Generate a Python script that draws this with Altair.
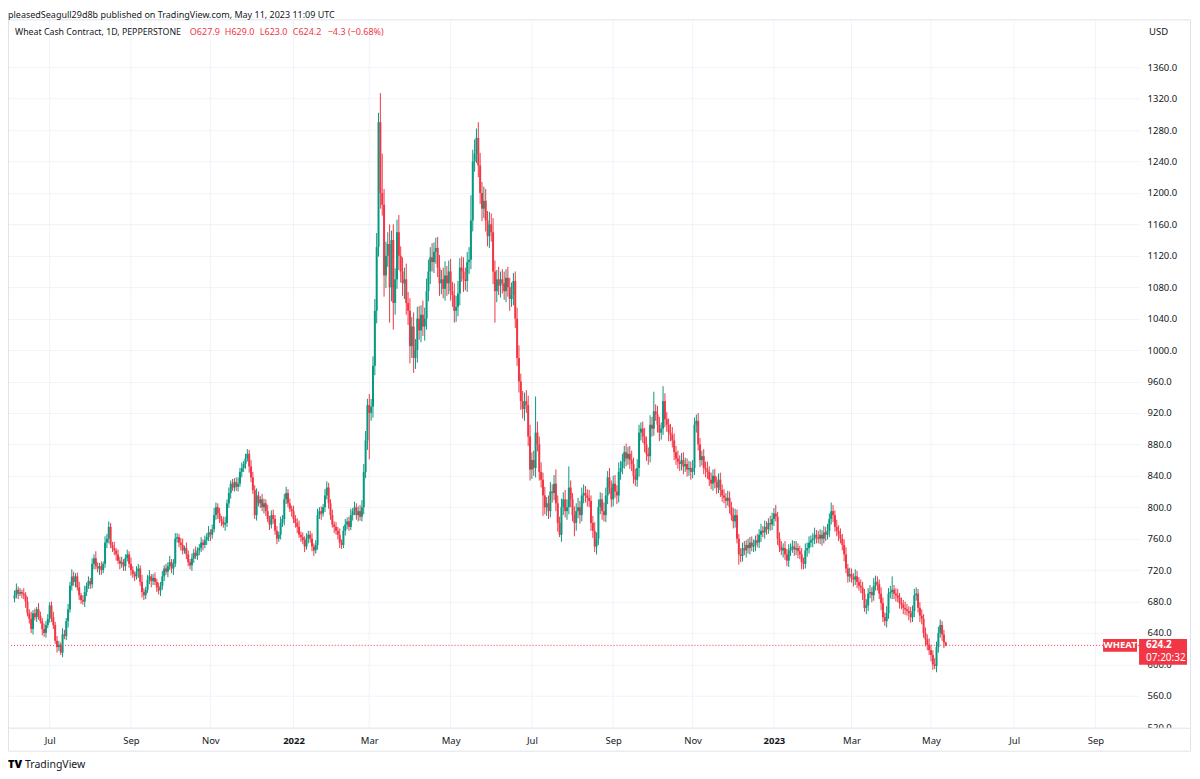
import altair as alt
import pandas as pd

# ---------------- data ----------------
first_open = 684.0
closes = [
    688, 695, 690, 692, 690, 688, 680, 665, 658, 645,
    665, 660, 670, 662, 655, 645, 640, 650, 658, 675,
    660, 650, 630, 622, 625, 615, 638, 636, 655, 670,
    700, 712, 705, 712, 698, 688, 682, 680, 692, 700,
    706, 702, 728, 735, 725, 722, 725, 720, 728, 755,
    760, 775, 752, 748, 745, 740, 732, 728, 730, 725,
    735, 740, 728, 720, 715, 712, 718, 722, 705, 692,
    688, 695, 708, 712, 706, 710, 705, 698, 694, 700,
    712, 722, 718, 725, 730, 722, 728, 760, 762, 755,
    752, 745, 748, 740, 730, 726, 735, 742, 738, 745,
    748, 755, 752, 758, 762, 768, 765, 772, 790, 800,
    792, 785, 782, 778, 780, 805, 818, 830, 825, 832,
    826, 830, 845, 850, 855, 862, 868, 852, 838, 822,
    790, 815, 805, 810, 800, 805, 795, 785, 778, 790,
    785, 770, 760, 765, 780, 785, 810, 818, 805, 798,
    795, 785, 780, 775, 765, 762, 758, 750, 760, 765,
    760, 750, 745, 752, 790, 795, 792, 800, 815, 825,
    805, 790, 778, 775, 770, 765, 755, 752, 770, 778,
    782, 775, 790, 795, 800, 790, 795, 788, 800, 845,
    885, 930, 920, 928, 980, 1050, 1131, 1290, 1200, 1185,
    1095, 1120, 1135, 1080, 1140, 1060, 1090, 1150, 1120, 1100,
    1085, 1090, 1060, 1050, 1005, 1030, 990, 1000, 1040, 1025,
    1045, 1030, 1040, 1075, 1100, 1118, 1112, 1125, 1130, 1105,
    1085, 1090, 1078, 1095, 1085, 1100, 1075, 1070, 1050, 1055,
    1072, 1105, 1100, 1090, 1088, 1112, 1115, 1165, 1240, 1250,
    1270, 1235, 1200, 1180, 1190, 1165, 1145, 1160, 1150, 1100,
    1075, 1090, 1082, 1090, 1085, 1075, 1092, 1080, 1065, 1070,
    1088, 1040, 990, 960, 935, 925, 935, 930, 890, 848,
    860, 850, 895, 880, 845, 835, 815, 800, 805, 795,
    820, 818, 830, 805, 780, 765, 800, 810, 795, 800,
    825, 810, 790, 780, 795, 800, 790, 815, 818, 815,
    812, 808, 780, 770, 750, 760, 800, 810, 795, 790,
    815, 838, 825, 810, 830, 820, 815, 845, 850, 858,
    870, 862, 868, 860, 855, 840, 835, 850, 895, 900,
    890, 880, 868, 865, 905, 900, 922, 918, 905, 895,
    900, 935, 912, 905, 895, 892, 885, 870, 862, 858,
    855, 860, 852, 855, 848, 850, 845, 850, 905, 910,
    880, 860, 865, 850, 848, 845, 835, 830, 840, 832,
    825, 835, 822, 815, 812, 808, 812, 800, 790, 782,
    790, 760, 740, 738, 748, 745, 752, 748, 755, 750,
    752, 758, 755, 765, 770, 768, 775, 772, 780, 778,
    785, 792, 788, 760, 750, 745, 748, 740, 732, 745,
    748, 750, 746, 748, 744, 740, 730, 728, 745, 748,
    755, 758, 760, 765, 762, 760, 765, 760, 768, 765,
    770, 785, 795, 790, 775, 770, 765, 760, 752, 740,
    722, 712, 715, 710, 708, 712, 705, 700, 698, 690,
    672, 675, 690, 692, 688, 700, 705, 702, 690, 678,
    660, 655, 665, 690, 692, 695, 690, 688, 685, 678,
    676, 672, 670, 668, 665, 660, 668, 688, 690, 672,
    662, 658, 640, 632, 625, 618, 612, 600, 598, 622,
    640, 650, 638, 627.9, 624.2,
]
wick_up = [
    6, 8, 4, 5, 3, 7, 4, 6, 5, 9, 4, 6, 3, 8, 5, 4, 7, 5, 6, 4,
    5, 7, 4, 6, 5, 3, 8, 6, 4, 7, 5, 9, 6, 4, 5, 7, 3, 6, 8, 4,
    6, 4, 7, 5, 9, 5, 4, 6, 3, 8, 6, 7, 5, 4, 8, 3, 6, 5, 7, 4,
    5, 6, 4, 8, 5, 3, 7, 6, 4, 9, 5, 4, 6, 8, 3, 5, 7, 4, 6, 5,
    7, 4, 6, 5, 8, 4, 6, 7, 5, 4, 6, 8, 3, 7, 5, 4, 6, 5, 8, 4,
    5, 7, 4, 6, 5, 8, 4, 6, 9, 6, 5, 7, 4, 6, 8, 5, 7, 4, 6, 5,
    6, 8, 5, 7, 4, 6, 6, 5, 8, 7, 6, 9, 5, 4, 7, 6, 5, 8, 4, 6,
    7, 5, 6, 4, 8, 5, 7, 8, 5, 6, 4, 7, 5, 6, 8, 4, 6, 5, 7, 5,
    5, 7, 4, 6, 8, 5, 6, 4, 8, 8, 6, 5, 7, 4, 6, 5, 8, 4, 6, 7,
    5, 6, 8, 4, 7, 5, 6, 8, 9, 10, 12, 8, 14, 10, 12, 15, 18, 12, 37, 50,
    20, 18, 15, 25, 12, 20, 14, 16, 22, 12, 18, 15, 20, 14, 16, 12, 18, 14, 15, 16,
    12, 18, 14, 16, 15, 13, 18, 12, 13, 14, 16, 12, 15, 18, 12, 14, 16, 12, 15, 14,
    16, 12, 14, 18, 15, 13, 16, 32, 15, 18, 12, 20, 16, 14, 18, 15, 12, 16, 14, 18,
    14, 12, 16, 10, 13, 15, 11, 14, 12, 16, 10, 12, 14, 16, 10, 13, 11, 14, 12, 15,
    10, 12, 46, 14, 10, 12, 9, 11, 8, 10, 12, 9, 11, 18, 10, 8, 11, 9, 12, 10,
    27, 9, 8, 11, 10, 12, 8, 10, 11, 9, 8, 10, 7, 9, 11, 8, 10, 9, 8, 11,
    10, 8, 12, 9, 10, 11, 8, 12, 9, 10, 8, 11, 9, 10, 12, 8, 9, 11, 10, 8,
    9, 11, 10, 8, 12, 10, 25, 9, 11, 10, 8, 19, 10, 9, 8, 11, 10, 9, 8, 10,
    8, 9, 10, 8, 7, 9, 8, 10, 9, 8, 10, 8, 7, 9, 8, 10, 7, 9, 8, 9,
    7, 8, 9, 7, 8, 6, 9, 8, 7, 9, 8, 7, 6, 8, 7, 9, 6, 8, 7, 8,
    7, 6, 8, 7, 9, 6, 8, 7, 6, 9, 8, 7, 11, 6, 8, 7, 6, 9, 7, 8,
    6, 8, 7, 9, 6, 7, 8, 6, 9, 7, 8, 6, 7, 9, 6, 8, 7, 6, 8, 7,
    9, 7, 11, 8, 6, 9, 7, 8, 6, 7, 9, 6, 8, 7, 6, 9, 7, 6, 8, 7,
    6, 8, 7, 9, 6, 10, 8, 7, 6, 8, 7, 6, 9, 7, 8, 17, 6, 7, 8, 6,
    7, 6, 8, 7, 6, 8, 7, 8, 8, 6, 7, 8, 6, 7, 6, 8, 7, 6, 8, 7,
    8, 7, 5, 6, 1.1,
]
wick_dn = [
    5, 4, 7, 3, 6, 5, 8, 4, 6, 5, 7, 4, 6, 5, 3, 8, 5, 6, 4, 5,
    6, 5, 4, 7, 5, 3, 6, 4, 5, 8, 4, 6, 5, 7, 4, 6, 5, 4, 7, 5,
    4, 6, 5, 7, 4, 5, 8, 6, 4, 5, 7, 6, 4, 5, 6, 8, 4, 7, 5, 6,
    6, 4, 5, 7, 5, 6, 4, 8, 5, 7, 6, 5, 4, 6, 8, 5, 4, 6, 5, 7,
    5, 6, 4, 7, 5, 6, 8, 4, 5, 6, 7, 5, 4, 6, 5, 5, 7, 6, 4, 5,
    6, 5, 7, 4, 6, 5, 8, 5, 4, 6, 7, 5, 6, 4, 8, 5, 6, 7, 4, 5,
    5, 6, 4, 7, 5, 6, 4, 8, 6, 5, 5, 7, 4, 6, 5, 8, 6, 4, 7, 5,
    6, 5, 7, 4, 6, 5, 8, 6, 5, 4, 7, 5, 6, 8, 4, 6, 5, 7, 4, 6,
    5, 6, 7, 4, 6, 5, 8, 4, 6, 5, 7, 6, 4, 8, 5, 6, 7, 5, 4, 6,
    6, 5, 4, 7, 5, 6, 8, 5, 6, 9, 8, 12, 59, 10, 14, 12, 16, 12, 20, 14,
    27, 16, 14, 45, 18, 34, 15, 12, 18, 14, 16, 20, 15, 18, 22, 15, 19, 14, 16, 12,
    15, 12, 18, 14, 13, 16, 12, 14, 15, 12, 16, 14, 12, 15, 16, 14, 12, 15, 15, 14,
    12, 15, 13, 16, 12, 14, 15, 12, 14, 13, 12, 15, 14, 16, 12, 14, 13, 15, 12, 16,
    40, 14, 12, 15, 13, 11, 14, 12, 15, 10, 13, 12, 10, 14, 11, 12, 15, 10, 12, 14,
    12, 10, 12, 9, 11, 10, 26, 9, 11, 10, 8, 12, 9, 10, 11, 3, 9, 10, 8, 11,
    9, 10, 8, 17, 10, 9, 11, 8, 10, 9, 11, 8, 10, 9, 7, 10, 8, 9, 11, 8,
    9, 11, 8, 10, 9, 8, 11, 9, 10, 8, 9, 10, 8, 11, 9, 10, 8, 9, 11, 10,
    8, 10, 9, 11, 8, 10, 9, 8, 10, 11, 9, 8, 10, 9, 11, 8, 9, 10, 8, 9,
    9, 8, 10, 7, 9, 8, 10, 8, 9, 10, 8, 9, 7, 8, 10, 9, 8, 7, 9, 8,
    8, 7, 9, 8, 7, 9, 6, 8, 7, 9, 8, 6, 13, 8, 7, 6, 9, 7, 8, 6,
    7, 8, 6, 7, 9, 6, 8, 7, 6, 8, 7, 9, 6, 8, 7, 6, 9, 7, 7, 8,
    7, 6, 8, 7, 9, 6, 9, 7, 6, 8, 7, 6, 9, 7, 8, 6, 7, 9, 6, 8,
    6, 8, 7, 9, 6, 7, 8, 6, 7, 9, 6, 8, 7, 6, 9, 7, 8, 6, 7, 8,
    5, 8, 7, 6, 9, 7, 6, 8, 7, 9, 6, 6, 8, 7, 6, 9, 7, 8, 6, 7,
    6, 8, 7, 6, 9, 7, 6, 8, 7, 6, 8, 7, 6, 9, 7, 6, 8, 7, 4, 8,
    7, 6, 8, 7, 1.2,
]
start_date = "2021-06-04"
tick_months = ["2021-07-01", "2021-09-01", "2021-11-01", "2022-01-01", "2022-03-01",
               "2022-05-01", "2022-07-01", "2022-09-01", "2022-11-01", "2023-01-01",
               "2023-03-01", "2023-05-01", "2023-07-01", "2023-09-01"]
tick_labels = ["Jul", "Sep", "Nov", "2022", "Mar", "May", "Jul", "Sep", "Nov", "2023",
               "Mar", "May", "Jul", "Sep"]
year_labels = ["2022", "2023"]
price_ticks = list(range(520, 1361, 40))
last_price = 624.2
symbol = "WHEAT"
countdown = "07:20:32"
header_text = "pleasedSeagull29d8b published on TradingView.com, May 11, 2023 11:09 UTC"
title_text = "Wheat Cash Contract, 1D, PEPPERSTONE"
ohlc_items = ["O627.9", "H629.0", "L623.0", "C624.2", "\u22124.3 (\u22120.68%)"]

# ---------------- styles ----------------
UP, DOWN = "#089981", "#F23645"
GRID, TEXT, FRAME = "#f0f3fa", "#131722", "#e0e3eb"
FONT = "Noto Sans"
W, H = 1132, 708

# ---------------- tables ----------------
n = len(closes)
calendar = pd.bdate_range(start_date, periods=700)
opens = [first_open] + closes[:-1]
highs = [max(o, c) + u for o, c, u in zip(opens, closes, wick_up)]
lows = [min(o, c) - d for o, c, d in zip(opens, closes, wick_dn)]
df = pd.DataFrame({
    "i": list(range(n)),
    "date": calendar[:n].strftime("%Y-%m-%d"),
    "open": opens, "close": closes, "high": highs, "low": lows,
})
df["dir"] = ["up" if c >= o else "down" for o, c in zip(opens, closes)]

tick_idx = [int(calendar.searchsorted(pd.Timestamp(m))) for m in tick_months]
ticks_df = pd.DataFrame({"i": tick_idx, "label": tick_labels})
last_df = pd.DataFrame({"price": [last_price]})
anno = pd.DataFrame({"k": [0]})

label_expr = "[" + ",".join("'%s'" % l for l in tick_labels) + "][indexof([" + \
    ",".join(str(v) for v in tick_idx) + "], datum.value)]"
year_idx = [v for v, l in zip(tick_idx, tick_labels) if l in year_labels]
year_test = "indexof([" + ",".join(str(v) for v in year_idx) + "], datum.value) >= 0"

x_scale = alt.Scale(domain=[-0.83, 605.9], nice=False, zero=False)
y_scale = alt.Scale(domain=[519.4, 1419.7], nice=False, zero=False)

x_axis = alt.Axis(values=tick_idx, labelExpr=label_expr, grid=False, ticks=False,
                  domain=False, labelPadding=8, labelFontSize=9.5, labelFont=FONT,
                  labelColor=TEXT, labelFlush=False, title=None, zindex=2,
                  labelFontWeight={"condition": {"test": year_test, "value": "bold"},
                                   "value": "normal"})
y_axis = alt.Axis(orient="right", values=price_ticks, format=".1f", grid=True,
                  gridColor=GRID, gridWidth=1, ticks=False, domain=False,
                  labelPadding=8, labelFontSize=9.5, labelFont=FONT, labelColor=TEXT,
                  labelAlign="left", labelFlush=False, title=None)

X = lambda: alt.X("i:Q", scale=x_scale, axis=x_axis)
Y = lambda f: alt.Y(f, scale=y_scale, axis=y_axis)
color = alt.Color("dir:N", scale=alt.Scale(domain=["up", "down"], range=[UP, DOWN]),
                  legend=None)

vgrid = alt.Chart(ticks_df).mark_rule(color=GRID, strokeWidth=1).encode(x=X())
wicks = alt.Chart(df).mark_rule(strokeWidth=1).encode(
    x=X(), y=Y("low:Q"), y2="high:Q", color=color)
bodies = alt.Chart(df).mark_bar(size=2).encode(
    x=X(), y=Y("open:Q"), y2="close:Q", color=color)
last_line = alt.Chart(last_df).mark_rule(color=DOWN, strokeDash=[1, 2], strokeWidth=1).encode(
    y=Y("price:Q"))

strip = alt.Chart(anno).mark_rect(color="white").encode(
    x=alt.value(0), x2=alt.value(1184), y=alt.value(708.5), y2=alt.value(732))
frame = alt.Chart(anno).mark_rect(fillOpacity=0, stroke=FRAME, strokeWidth=1).encode(
    x=alt.value(0.5), x2=alt.value(1183.5), y=alt.value(-0.5), y2=alt.value(731.5))
sep = alt.Chart(anno).mark_rule(color=FRAME, strokeWidth=1).encode(
    x=alt.value(0), x2=alt.value(1184), y=alt.value(708.5))

sym_box = alt.Chart(last_df).mark_rect(color=DOWN, yOffset=-6.5, y2Offset=6.5).encode(
    x=alt.value(1096), x2=alt.value(1130), y=Y("price:Q"), y2="price:Q")
price_box = alt.Chart(last_df).mark_rect(color=DOWN, yOffset=-6.5, y2Offset=19.5).encode(
    x=alt.value(1132), x2=alt.value(1180), y=Y("price:Q"), y2="price:Q")
sym_txt = alt.Chart(last_df).mark_text(color="white", font=FONT, fontSize=9.5,
                                       fontWeight="bold", align="center", baseline="middle").encode(
    x=alt.value(1113), y=Y("price:Q"), text=alt.value(symbol))
price_txt = alt.Chart(last_df).mark_text(color="white", font=FONT, fontSize=10,
                                         fontWeight="bold", align="left", baseline="middle").encode(
    x=alt.value(1139), y=Y("price:Q"), text=alt.value("%.1f" % last_price))
cd_txt = alt.Chart(last_df).mark_text(color="white", font=FONT, fontSize=10,
                                      align="left", baseline="middle", dy=13).encode(
    x=alt.value(1139), y=Y("price:Q"), text=alt.value(countdown))


def label(txt, x, y, size=9.5, col=TEXT, weight="normal", align="left"):
    return alt.Chart(anno).mark_text(font=FONT, fontSize=size, color=col, fontWeight=weight,
                                     align=align, baseline="middle").encode(
        x=alt.value(x), y=alt.value(y), text=alt.value(txt))


texts = [
    label(header_text, 0, -5.5, size=9),
    label(title_text, 7, 12, size=8.8),
    label("USD", 1142, 12),
    label("TV", 0, 745, size=11, weight=900, col="#000000"),
    label("TradingView", 17, 745, size=10.5),
]
ohlc_x = [182, 217, 252, 285, 320]
for t, xx in zip(ohlc_items, ohlc_x):
    texts.append(label(t, xx, 12, size=9, col=DOWN))

chart = alt.layer(
    vgrid, wicks, bodies, last_line, strip, frame, sep,
    sym_box, price_box, sym_txt, price_txt, cd_txt, *texts
).properties(
    width=W, height=H, autosize="none",
    padding={"left": 0, "top": 12, "right": 53, "bottom": 47},
    background="white",
).configure_view(stroke=None)

chart.save("out.html", embed_options={"renderer": "svg", "actions": False})
